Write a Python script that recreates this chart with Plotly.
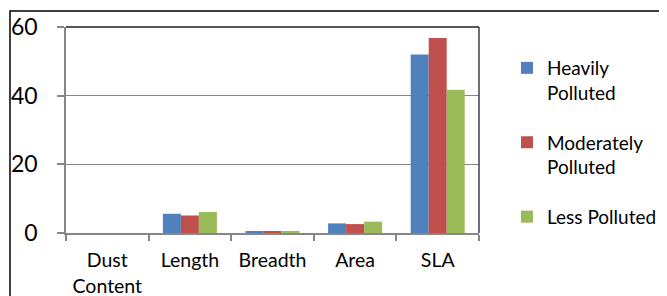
import plotly.graph_objects as go

categories = ["Dust<br>Content", "Length", "Breadth", "Area", "SLA"]
heavily = [0.0, 5.6, 0.45, 2.8, 52.0]
moderately = [0.0, 5.1, 0.42, 2.6, 56.8]
less = [0.0, 6.1, 0.38, 3.3, 41.7]

series_names = ["Heavily<br>Polluted", "Moderately<br>Polluted", "Less Polluted"]
series_values = [heavily, moderately, less]
colors = ["#4F81BD", "#C0504D", "#9BBB59"]

FONT = "Lato"

fig = go.Figure()
for i, (name, vals, col) in enumerate(zip(series_names, series_values, colors)):
    fig.add_trace(go.Bar(x=categories, y=vals, name=name, marker_color=col,
                         marker_line_width=0, legendgroup=f"g{i}"))

# window geometry (page body has an 8px default margin)
OFF = 8
W, H = 667, 296
L, R, T, B = 66, 479, 27, 233
pw, ph = R - L, B - T

def px(x):
    return (x - L) / pw

def py(y):
    return (B - y) / ph

fig.update_layout(
    width=W - OFF, height=H - OFF,
    margin=dict(l=L - OFF, r=W - R, t=T - OFF, b=H - B, pad=0, autoexpand=False),
    paper_bgcolor="white", plot_bgcolor="white",
    barmode="group", bargap=0.346, bargroupgap=0,
    font=dict(family=FONT, color="#000000"),
    showlegend=True,
    legend=dict(x=px(507), y=py(49), xanchor="left", yanchor="top",
                font=dict(size=19, family=FONT), valign="top",
                traceorder="grouped", tracegroupgap=22,
                itemwidth=30, bgcolor="rgba(0,0,0,0)"),
    xaxis=dict(showline=True, linecolor="#868686", linewidth=1.5,
               ticks="outside", ticklen=6, tickcolor="#868686", tickwidth=1.5,
               tickson="boundaries", tickfont=dict(size=19.5, family=FONT),
               ticklabelstandoff=9, automargin=False,
               showgrid=False, fixedrange=True),
    yaxis=dict(range=[0, 60], tickvals=[0, 20, 40, 60],
               showline=True, linecolor="#868686", linewidth=1.5,
               ticks="outside", ticklen=7, tickcolor="#868686", tickwidth=1.5,
               tickfont=dict(size=23, family=FONT),
               ticklabelstandoff=15, automargin=False,
               showgrid=True, gridcolor="#868686", gridwidth=1,
               zeroline=False, fixedrange=True),
    shapes=[
        dict(type="line", xref="paper", yref="paper", x0=0, x1=1, y0=1, y1=1,
             line=dict(color="#202020", width=1.5)),
        dict(type="line", xref="paper", yref="paper", x0=1, x1=1, y0=0, y1=1,
             line=dict(color="#404040", width=1.5)),
        dict(type="rect", xref="paper", yref="paper",
             x0=px(10), x1=px(680), y0=py(310), y1=py(11),
             line=dict(color="#000000", width=1.5), layer="below"),
    ],
)

fig.write_html("out.html")
